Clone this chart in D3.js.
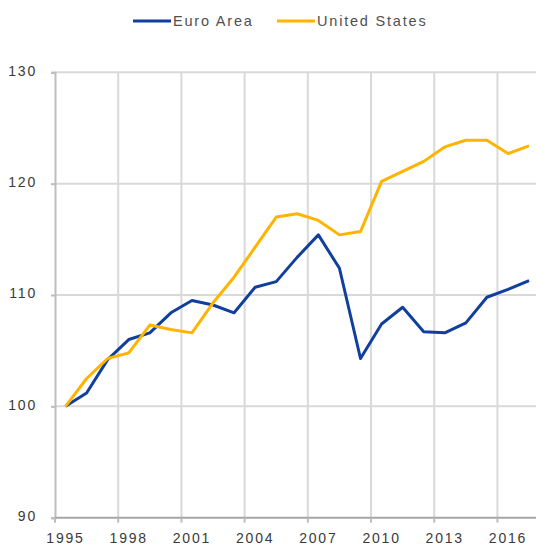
<!DOCTYPE html>
<html>
<head>
<meta charset="utf-8">
<script src="https://cdn.jsdelivr.net/npm/d3@7"></script>
<style>
  body { margin: 0; background: #fff; }
  svg { display: block; font-family: "Liberation Sans", Arial, sans-serif; }
</style>
</head>
<body>
<svg id="chart" width="536" height="547"></svg>
<script>
// data (index, 1995 = 100)
const years = d3.range(1995, 2018);
const euroArea = [100, 101.2, 104.2, 106.0, 106.6, 108.4, 109.5, 109.1, 108.4, 110.7, 111.2, 113.4, 115.4,
                  112.4, 104.3, 107.4, 108.9, 106.7, 106.6, 107.5, 109.8, 110.5, 111.3];
const unitedStates = [100, 102.5, 104.3, 104.8, 107.3, 106.9, 106.6, 109.3, 111.6, 114.3, 117.0, 117.3, 116.7,
                      115.4, 115.7, 120.2, 121.1, 122.0, 123.3, 123.9, 123.9, 122.7, 123.4];
const yTicks = [90, 100, 110, 120, 130];
const xTickYears = [1995, 1998, 2001, 2004, 2007, 2010, 2013, 2016];

const series = [
  {name: 'Euro Area', values: euroArea, color: '#103f9e'},
  {name: 'United States', values: unitedStates, color: '#ffb400'}
];

const svg = d3.select('#chart');
const plotLeft = 55, plotRight = 539.6, plotTop = 72.3, plotBottom = 517.7;

const x = d3.scaleBand().domain(years).range([plotLeft, plotRight]);
const y = d3.scaleLinear().domain([90, 130]).range([plotBottom, plotTop]);
const cx = d => x(d) + x.bandwidth() / 2;

// grid
let grid = svg.append('g').attr('id', 'grid');
grid.selectAll('line.h')
  .data(yTicks.filter(d => d > 90))
  .join('line')
  .attr('x1', plotLeft).attr('x2', 536)
  .attr('y1', d => y(d)).attr('y2', d => y(d))
  .attr('stroke', '#d9d9d9').attr('stroke-width', 2);
grid.selectAll('line.v')
  .data(xTickYears.filter(d => d > 1995))
  .join('line')
  .attr('x1', d => x(d)).attr('x2', d => x(d))
  .attr('y1', plotTop).attr('y2', plotBottom)
  .attr('stroke', '#d9d9d9').attr('stroke-width', 2);

// y axis
let yAxis = d3.axisLeft(y).tickValues(yTicks).tickSize(4).tickPadding(14);
let gy = svg.append('g').attr('transform', 'translate(' + plotLeft + ',0)').call(yAxis);
gy.select('.domain').attr('stroke', '#bdbdbd').attr('stroke-width', 2);
gy.selectAll('.tick line').attr('stroke', '#bdbdbd').attr('stroke-width', 2);
gy.selectAll('.tick text')
  .attr('fill', '#3a3a3a').attr('font-size', 14).attr('letter-spacing', '1.8px').attr('dy', '0.2em');

// x axis: ticks on band edges, labels on band centres
let gx = svg.append('g').attr('id', 'xaxis');
gx.append('line')
  .attr('x1', plotLeft).attr('x2', 536).attr('y1', plotBottom).attr('y2', plotBottom)
  .attr('stroke', '#a6a6a6').attr('stroke-width', 2);
gx.selectAll('line.tick')
  .data(xTickYears)
  .join('line')
  .attr('x1', d => x(d)).attr('x2', d => x(d))
  .attr('y1', plotBottom).attr('y2', plotBottom + 5)
  .attr('stroke', '#bdbdbd').attr('stroke-width', 2);
gx.selectAll('text')
  .data(xTickYears)
  .join('text')
  .attr('x', d => cx(d))
  .attr('y', 543)
  .attr('text-anchor', 'middle')
  .attr('fill', '#3a3a3a').attr('font-size', 14).attr('letter-spacing', '1.8px')
  .text(d => d);

// lines
const line = d3.line()
  .x((d, i) => cx(years[i]))
  .y(d => y(d));
svg.append('g').selectAll('path')
  .data(series)
  .join('path')
  .attr('fill', 'none')
  .attr('stroke', d => d.color)
  .attr('stroke-width', 3)
  .attr('stroke-linejoin', 'round')
  .attr('d', d => line(d.values));

// legend
const legendX = [133, 277];
let legend = svg.append('g').attr('id', 'legend');
series.forEach(function (s, i) {
  legend.append('line')
    .attr('x1', legendX[i]).attr('x2', legendX[i] + 38)
    .attr('y1', 21).attr('y2', 21)
    .attr('stroke', s.color).attr('stroke-width', 3);
  legend.append('text')
    .attr('x', legendX[i] + 40).attr('y', 26)
    .attr('fill', '#505050').attr('font-size', 14.5).attr('letter-spacing', '1.8px')
    .text(s.name);
});
</script>
</body>
</html>
